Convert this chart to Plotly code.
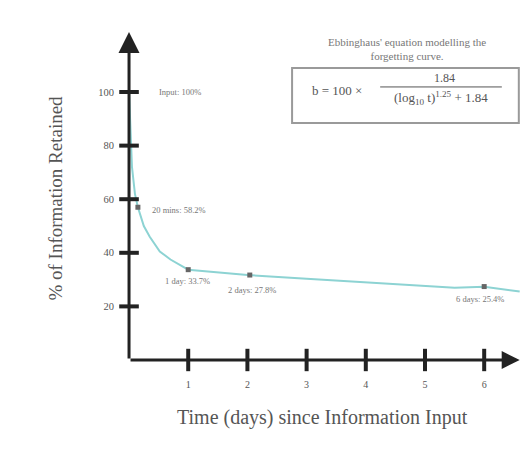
import plotly.graph_objects as go

# ---- data ----
curve_days = [0, 0.02, 0.05, 0.1, 0.15, 0.25, 0.35, 0.52, 0.7, 1.0, 1.5, 2.0, 3.0, 4.0, 5.0, 5.5, 6.0, 6.6]
curve_pct = [100, 86, 72, 62, 57, 50, 46, 40.5, 37.5, 33.7, 32.6, 31.7, 30.3, 29.0, 27.8, 27.0, 27.3, 25.6]

point_days = [0, 0.15, 1.0, 2.04, 6.0]
point_pct = [100, 57, 33.7, 31.7, 27.4]
point_labels = ["Input: 100%", "20 mins: 58.2%", "1 day: 33.7%", "2 days: 27.8%", "6 days: 25.4%"]
point_marked = [False, True, True, True, True]

x_ticks = [1, 2, 3, 4, 5, 6]
y_ticks = [20, 40, 60, 80, 100]

title_text = "Ebbinghaus' equation modelling the<br>forgetting curve."
x_title = "Time (days) since Information Input"
y_title = "% of Information Retained"

SERIF = "Liberation Serif, Times New Roman, serif"
GREY = "#555555"
LIGHT = "#777777"
AXIS = "#222222"

fig = go.Figure()

# curve
fig.add_trace(go.Scatter(x=curve_days, y=curve_pct, mode="lines",
                         line=dict(color="#8dd3d3", width=2), hoverinfo="skip",
                         showlegend=False))

# markers
fig.add_trace(go.Scatter(x=[d for d, m in zip(point_days, point_marked) if m],
                         y=[p for p, m in zip(point_pct, point_marked) if m],
                         mode="markers", marker=dict(symbol="square", size=5, color="#666666"),
                         showlegend=False, hoverinfo="skip"))

# crossing tick marks
fig.add_trace(go.Scatter(x=[0] * len(y_ticks), y=y_ticks, mode="markers",
                         marker=dict(symbol="line-ew", size=14, line=dict(width=4, color=AXIS)),
                         cliponaxis=False, showlegend=False, hoverinfo="skip"))
fig.add_trace(go.Scatter(x=x_ticks, y=[0] * len(x_ticks), mode="markers",
                         marker=dict(symbol="line-ns", size=16, line=dict(width=4, color=AXIS)),
                         cliponaxis=False, showlegend=False, hoverinfo="skip"))

annotations = []
# axis arrows
annotations.append(dict(x=6.6, y=0, ax=0, ay=0, xref="x", yref="y", axref="x", ayref="y",
                        text="", showarrow=True, arrowhead=2, arrowsize=1.2, arrowwidth=3,
                        arrowcolor=AXIS))
annotations.append(dict(x=0, y=122.4, ax=0, ay=0, xref="x", yref="y", axref="x", ayref="y",
                        text="", showarrow=True, arrowhead=2, arrowsize=1.4, arrowwidth=3,
                        arrowcolor=AXIS))

# point labels
label_style = [
    dict(xanchor="left", xshift=28, yshift=0),
    dict(xanchor="left", xshift=12, yshift=-3),
    dict(xanchor="center", xshift=-1, yshift=-11),
    dict(xanchor="center", xshift=2, yshift=-15),
    dict(xanchor="center", xshift=-4, yshift=-12),
]
for d, p, t, st in zip(point_days, point_pct, point_labels, label_style):
    annotations.append(dict(x=d, y=p, xref="x", yref="y", text=t, showarrow=False,
                            yanchor="middle", font=dict(family=SERIF, size=8.5, color=LIGHT), **st))

# axis titles
annotations.append(dict(x=-0.177, y=0.5, xref="paper", yref="paper", text=y_title,
                        textangle=-90, showarrow=False, xanchor="center", yanchor="middle",
                        font=dict(family=SERIF, size=19, color=GREY)))
annotations.append(dict(x=0.501, y=-0.159, xref="paper", yref="paper", text=x_title,
                        showarrow=False, xanchor="center", yanchor="middle",
                        font=dict(family=SERIF, size=20, color=GREY)))

# equation title and box
annotations.append(dict(x=0.714, y=0.949, xref="paper", yref="paper", text=title_text,
                        showarrow=False, xanchor="center", yanchor="middle",
                        font=dict(family=SERIF, size=11, color=LIGHT)))
annotations.append(dict(x=0.468, y=0.823, xref="paper", yref="paper", text="b = 100 ×",
                        showarrow=False, xanchor="left", yanchor="middle",
                        font=dict(family=SERIF, size=13, color=GREY)))
annotations.append(dict(x=0.81, y=0.835, xref="paper", yref="paper", text="1.84",
                        showarrow=False, xanchor="center", yanchor="bottom",
                        font=dict(family=SERIF, size=12, color=GREY)))
annotations.append(dict(x=0.80, y=0.835, xref="paper", yref="paper",
                        text="(log<sub>10</sub> t)<sup>1.25</sup> + 1.84",
                        showarrow=False, xanchor="center", yanchor="top",
                        font=dict(family=SERIF, size=13, color=GREY)))

shapes = [
    dict(type="rect", xref="paper", yref="paper", x0=0.423, x1=0.997, y0=0.727, y1=0.892,
         line=dict(color="#9a9a9a", width=2), fillcolor="rgba(0,0,0,0)"),
    dict(type="line", xref="paper", yref="paper", x0=0.646, x1=0.954, y0=0.835, y1=0.835,
         line=dict(color=GREY, width=1)),
]

fig.update_layout(
    width=530, height=452,
    margin=dict(l=125, r=10, t=32, b=87, autoexpand=False),
    paper_bgcolor="white", plot_bgcolor="white",
    showlegend=False,
    annotations=annotations, shapes=shapes,
    xaxis=dict(range=[-0.068, 6.605], showgrid=False, zeroline=False, showline=False,
               automargin=False,
               tickmode="array", tickvals=x_ticks, ticktext=[str(v) for v in x_ticks],
               ticks="", ticklabelstandoff=12,
               tickfont=dict(family=SERIF, size=10, color=GREY)),
    yaxis=dict(range=[-1.87, 122.4], showgrid=False, zeroline=False, showline=False,
               automargin=False,
               tickmode="array", tickvals=y_ticks, ticktext=[str(v) for v in y_ticks],
               ticks="", ticklabelstandoff=10,
               tickfont=dict(family=SERIF, size=10.5, color=GREY)),
)

fig.write_html("out.html", config={"displayModeBar": False},
               post_script="document.body.style.margin='0px';")
